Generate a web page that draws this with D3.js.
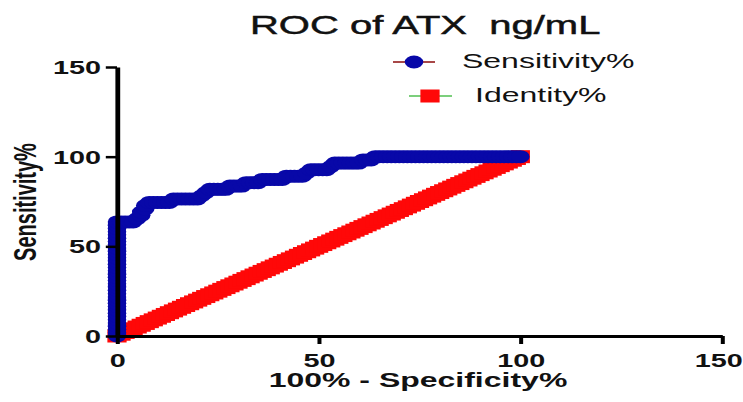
<!DOCTYPE html>
<html>
<head>
<meta charset="utf-8">
<script src="https://cdn.jsdelivr.net/npm/d3@7/dist/d3.min.js"></script>
<style>
  html, body { margin: 0; padding: 0; background: #fff; }
  svg { display: block; }
  text { font-family: "Liberation Sans", Arial, sans-serif; fill: #111; }
</style>
</head>
<body>
<div id="chart"></div>
<script>
// ROC curve: false positive rate (100% - Specificity%) vs Sensitivity%
const rocFpr = [
  0,0,0,0,0,0,0,0,0,0,0,0,0,0,0,0,0,0,0,0,0,0,0,0,0,0,0,0,0,0,0,0,0,0,0,0,
  1,2,3,4,5,6,6,7,7,8,9,10,11,12,13,14,15,16,17,18,19,20,21,22,23,24,25,26,27,
  28,29,30,31,32,33,34,35,36,37,38,39,40,41,42,43,44,45,46,47,48,49,50,51,52,
  53,54,55,56,57,58,59,60,61,62,63,64,65,66,67,68,69,70,71,72,73,74,75,76,77,
  78,79,80,81,82,83,84,85,86,87,88,89,90,91,92,93,94,95,96,97,98,99,100
];
const rocTpr = [
  0,1.8,3.6,5.5,7.3,9.1,10.9,12.7,14.5,16.4,18.2,20.0,21.8,23.6,25.5,27.3,29.1,30.9,
  32.7,34.5,36.4,38.2,40.0,41.8,43.6,45.5,47.3,49.1,50.9,52.7,54.5,56.4,58.2,60.0,61.8,63.6,
  63.6,63.6,63.6,63.6,65.5,67.3,69.1,70.9,72.7,74.5,74.5,74.5,74.5,74.5,74.5,76.4,76.4,
  76.4,76.4,76.4,76.4,76.4,78.2,80.0,81.8,81.8,81.8,81.8,81.8,
  83.6,83.6,83.6,83.6,85.5,85.5,85.5,85.5,87.3,87.3,87.3,87.3,87.3,87.3,
  89.1,89.1,89.1,89.1,89.1,90.9,92.7,92.7,92.7,92.7,92.7,
  94.5,96.4,96.4,96.4,96.4,96.4,96.4,96.4,98.2,98.2,98.2,
  100,100,100,100,100,100,100,100,100,100,100,100,100,100,100,100,100,100,100,
  100,100,100,100,100,100,100,100,100,100,100,100,100,100,100,100,100,100
];
// Line of identity (chance line)
const identityX = [
  0,1,2,3,4,5,6,7,8,9,10,11,12,13,14,15,16,17,18,19,20,21,22,23,24,25,26,27,28,29,30,
  31,32,33,34,35,36,37,38,39,40,41,42,43,44,45,46,47,48,49,50,51,52,53,54,55,56,57,58,59,60,
  61,62,63,64,65,66,67,68,69,70,71,72,73,74,75,76,77,78,79,80,81,82,83,84,85,86,87,88,89,90,
  91,92,93,94,95,96,97,98,99,100
];
const xTicks = [0, 50, 100, 150];
const yTicks = [0, 50, 100, 150];
const seriesNames = ["Sensitivity%", "Identity%"];

const W = 743, H = 402;
const SX = 1.6;              // horizontal stretch of the drawing
const VW = W / SX;           // internal coordinate width

const sens = rocFpr.map((x, i) => ({ x, y: rocTpr[i] }));
const ident = identityX.map(x => ({ x, y: x }));

const svg = d3.select("#chart").append("svg")
  .attr("width", W).attr("height", H)
  .attr("viewBox", `0 0 ${VW} ${H}`)
  .attr("preserveAspectRatio", "none");

const x = d3.scaleLinear().domain([0, 150]).range([117 / SX, 722 / SX]);
const y = d3.scaleLinear().domain([0, 150]).range([336, 67]);

const RED = "#ff0808", BLUE = "#0808a8";
const sqW = 12, sqH = 13;   // square marker size (internal units)
const cRx = 5.8, cRy = 6.5; // circle marker radii (internal units)

// Identity series: red squares on a green line
const lineGen = d3.line().x(d => x(d.x)).y(d => y(d.y));
svg.append("path").datum(ident).attr("d", lineGen)
  .attr("fill", "none").attr("stroke", "#7ccf7c").attr("stroke-width", 2);
svg.append("g").selectAll("rect").data(ident).join("rect")
  .attr("x", d => x(d.x) - sqW / 2).attr("y", d => y(d.y) - sqH / 2)
  .attr("width", sqW).attr("height", sqH).attr("fill", RED);

// Sensitivity series: blue circles on a dark-red line
svg.append("path").datum(sens).attr("d", lineGen)
  .attr("fill", "none").attr("stroke", "#a84848").attr("stroke-width", 2);
svg.append("g").selectAll("ellipse").data(sens).join("ellipse")
  .attr("cx", d => x(d.x)).attr("cy", d => y(d.y)).attr("rx", cRx).attr("ry", cRy)
  .attr("fill", BLUE);

// Axes
const xAxis = svg.append("g").attr("transform", `translate(0,${y(0)})`)
  .call(d3.axisBottom(x).tickValues(xTicks).tickSize(8).tickPadding(10).tickSizeOuter(0));
const yAxis = svg.append("g").attr("transform", `translate(${x(0)},0)`)
  .call(d3.axisLeft(y).tickValues(yTicks).tickSize(7).tickPadding(3).tickSizeOuter(0));
[xAxis, yAxis].forEach(g => {
  g.select(".domain").attr("stroke", "#000").attr("stroke-width", 3);
  g.selectAll(".tick line").attr("stroke", "#000").attr("stroke-width", 2.5);
  g.selectAll(".tick text").attr("font-size", 18).attr("font-weight", "bold")
    .attr("fill", "#111").style("font-family", '"Liberation Sans", Arial, sans-serif');
});
yAxis.selectAll(".tick text").attr("dy", "0.36em");
// keep the last x tick label inside the canvas
xAxis.selectAll(".tick text").filter(d => d === 150)
  .attr("text-anchor", "end").attr("x", (742 - 722) / SX);

// Title
svg.append("text").attr("x", 250 / SX).attr("y", 34)
  .attr("font-size", 25).attr("stroke", "#111").attr("stroke-width", 0.45)
  .style("white-space", "pre").text("ROC of ATX  ng/mL");

// Axis titles
svg.append("text").attr("x", 418 / SX).attr("y", 387).attr("text-anchor", "middle")
  .attr("font-size", 20).attr("font-weight", "bold").text("100% - Specificity%");
svg.append("text").attr("transform", `translate(${36 / SX},202) rotate(-90)`)
  .attr("text-anchor", "middle").attr("font-size", 20).attr("font-weight", "bold")
  .text("Sensitivity%");

// Legend
const leg = svg.append("g");
const l1 = leg.append("g");
l1.append("line").attr("x1", 393 / SX).attr("x2", 435 / SX).attr("y1", 62).attr("y2", 62)
  .attr("stroke", "#a84848").attr("stroke-width", 2);
l1.append("ellipse").attr("cx", 414 / SX).attr("cy", 62).attr("rx", cRx).attr("ry", cRy)
  .attr("fill", BLUE);
l1.append("text").attr("x", 462 / SX).attr("y", 68).attr("font-size", 20).text(seriesNames[0]);

const l2 = leg.append("g");
l2.append("line").attr("x1", 409 / SX).attr("x2", 452 / SX).attr("y1", 96).attr("y2", 96)
  .attr("stroke", "#7ccf7c").attr("stroke-width", 2);
l2.append("rect").attr("x", 430 / SX - sqW / 2).attr("y", 96 - sqH / 2)
  .attr("width", sqW).attr("height", sqH).attr("fill", RED);
l2.append("text").attr("x", 475 / SX).attr("y", 102).attr("font-size", 20).text(seriesNames[1]);
</script>
</body>
</html>
